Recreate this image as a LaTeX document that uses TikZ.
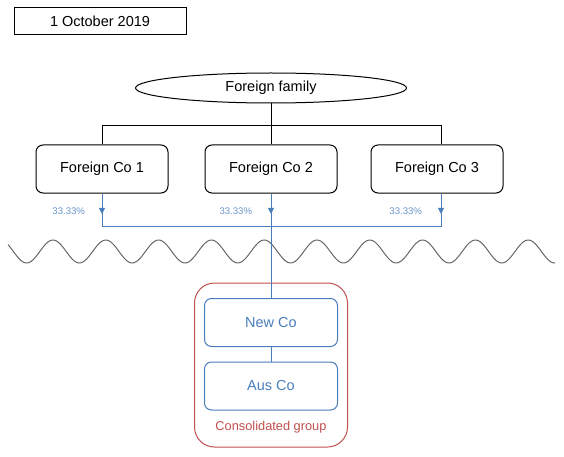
\documentclass[tikz,border=0pt]{standalone}
\usepackage{fontspec}
\setmainfont{Liberation Sans}
\usetikzlibrary{shapes.geometric,arrows.meta,decorations.markings}
\definecolor{oblue}{HTML}{4A7EBB}
\definecolor{lblue}{HTML}{6A95CC}
\definecolor{ored}{HTML}{C0504D}
\tikzset{
  fbox/.style={draw=black, line width=1pt, rounded corners=7pt, minimum width=132pt, minimum height=48pt, inner sep=0pt, font=\fontsize{14.5}{16}\selectfont},
  bbox/.style={draw=oblue, line width=1pt, rounded corners=7pt, minimum width=133pt, minimum height=48pt, inner sep=0pt, text=oblue, font=\fontsize{14.5}{16}\selectfont},
  pct/.style={text=lblue, font=\fontsize{9.6}{11}\selectfont, inner sep=0pt},
  bline/.style={draw=oblue, line width=1pt},
  midarrow/.style={bline, postaction={decorate}, decoration={markings, mark=at position 0.62 with {\arrow{Triangle[length=6pt,width=6pt]}}}},
}
\begin{document}
\begin{tikzpicture}[x=1pt,y=-1pt]
\useasboundingbox (0,0) rectangle (564,457);
\node[draw=black, line width=1pt, minimum width=172pt, minimum height=27pt, inner sep=0pt, font=\fontsize{14.5}{16}\selectfont] (date) at (100,21.5) {1 October 2019};
\node[ellipse, draw=black, line width=1pt, minimum width=271pt, minimum height=30pt, inner sep=0pt, font=\fontsize{14.5}{16}\selectfont] (family) at (271,88) {Foreign family};
\node[fbox] (fc1) at (102,169) {Foreign Co 1};
\node[fbox] (fc2) at (271,169) {Foreign Co 2};
\node[fbox] (fc3) at (437,169) {Foreign Co 3};
\coordinate (t1) at (102,126);
\coordinate (t3) at (441,126);
\draw[line width=1pt] (family.south) -- (fc2.north);
\draw[line width=1pt] (fc1.north) -- (t1) -- (t3) -- (t3 |- fc3.north);
\coordinate (b1) at (102,226.5);
\coordinate (b2) at (271,226.5);
\coordinate (b3) at (441,226.5);
\draw[midarrow] (fc1.south) -- (b1);
\draw[midarrow] (fc2.south) -- (b2);
\draw[midarrow] (b3 |- fc3.south) -- (b3);
\draw[bline] (b1) -- (b3);
\node[pct] (p1) at (68.7,211) {33.33\%};
\node[pct] (p2) at (235.8,211) {33.33\%};
\node[pct] (p3) at (405.7,211) {33.33\%};
\draw[black!60, line width=1pt] plot[domain=8:555, samples=300, smooth] (\x, {251.5 - 11.5*cos(6.818*(\x-53))});
\node[draw=ored, line width=1pt, rounded corners=20pt, minimum width=153pt, minimum height=164pt, inner sep=0pt] (group) at (271,365) {};
\node[bbox] (newco) at (271,322.5) {New Co};
\node[bbox] (ausco) at (271,386) {Aus Co};
\node[text=ored, font=\fontsize{12.8}{14}\selectfont, inner sep=0pt] (glabel) at (271,427.5) {Consolidated group};
\draw[bline] (b2) -- (newco.north);
\draw[bline] (newco.south) -- (ausco.north);
\end{tikzpicture}
\end{document}
